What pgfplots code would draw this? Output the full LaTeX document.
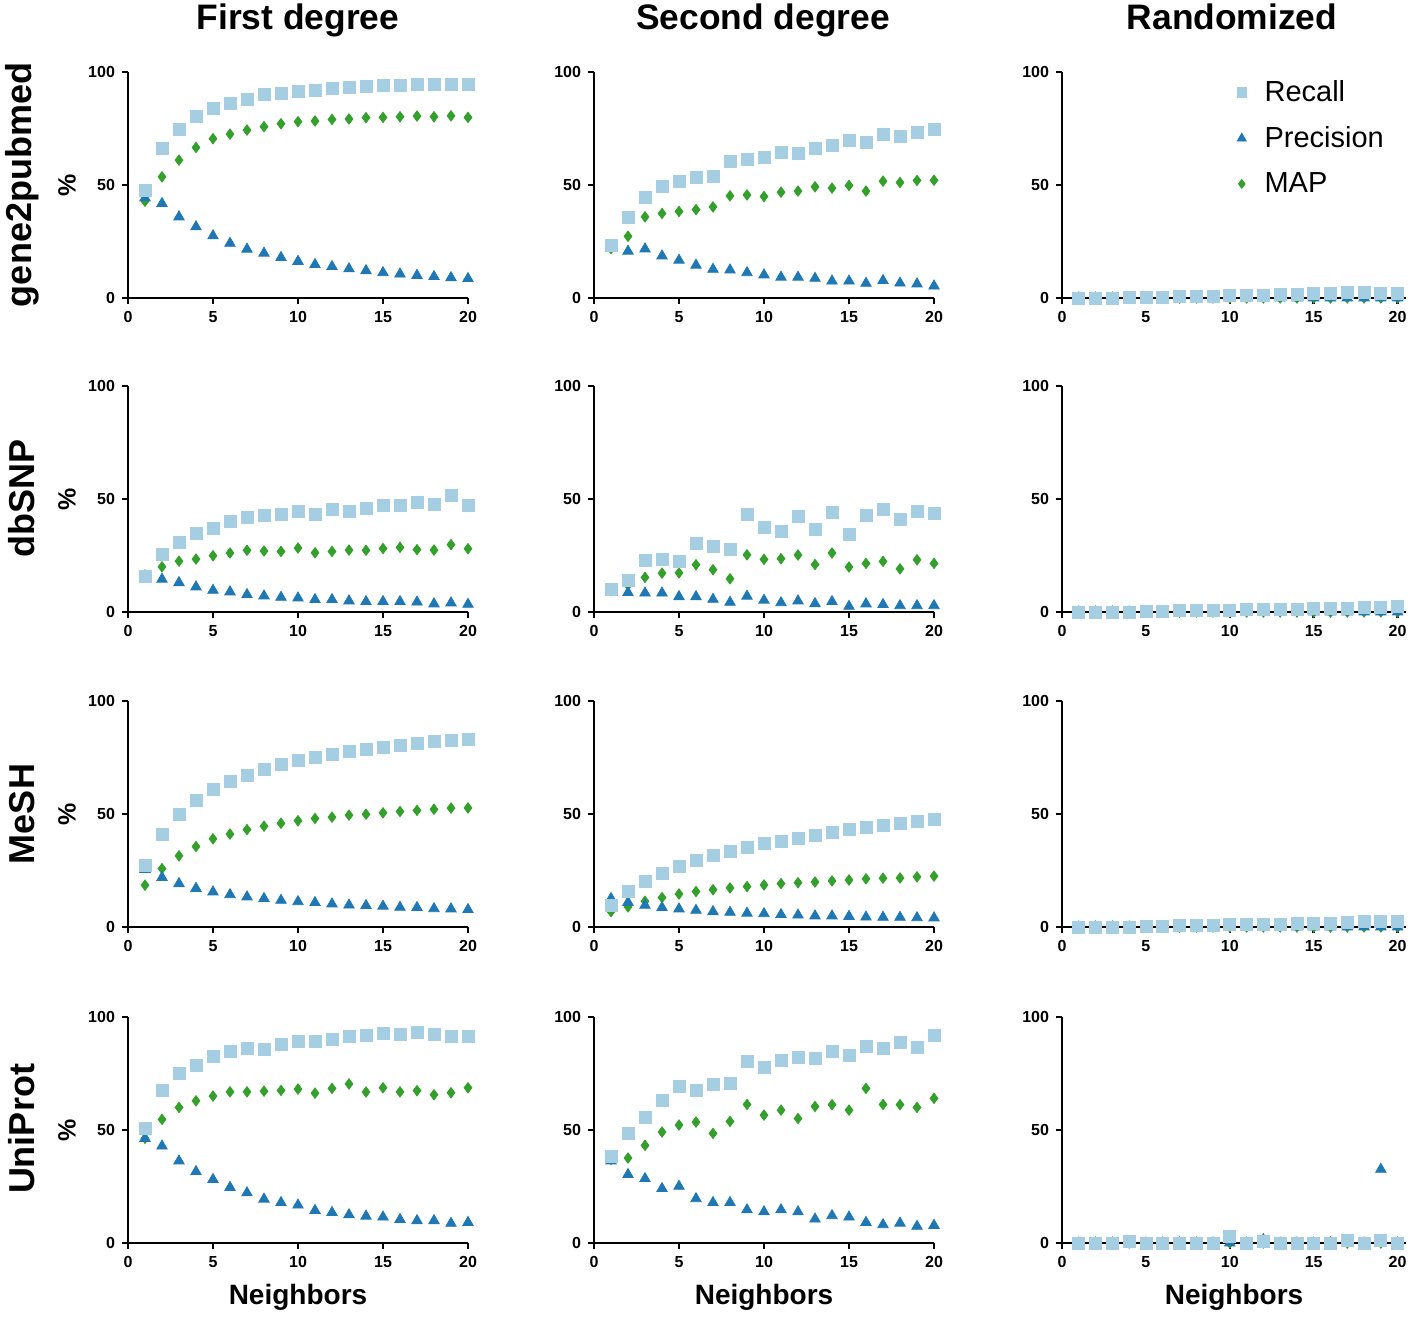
\documentclass[border=0pt]{standalone}
\usepackage{fontspec}
\setmainfont{Liberation Sans}
\usepackage{pgfplots}
\usepackage{pgfplotstable}
\pgfplotsset{compat=1.18}
\definecolor{rec}{RGB}{166,206,227}
\definecolor{pre}{RGB}{31,120,180}
\definecolor{mapc}{RGB}{51,160,44}

% gene2pubmed
\pgfplotstableread{
x R P M
1 47.6 44.3 42.8
2 66.2 41.8 53.6
3 74.6 35.9 61.0
4 80.2 31.5 66.6
5 83.9 27.5 70.5
6 86.1 24.2 72.5
7 87.7 21.6 74.3
8 90.0 19.8 75.8
9 90.7 17.9 77.1
10 91.3 16.2 78.0
11 91.7 14.8 78.3
12 92.6 13.9 79.0
13 93.2 12.9 79.2
14 93.6 12.1 79.8
15 93.9 11.2 79.9
16 94.2 10.6 80.2
17 94.5 10.0 80.5
18 94.5 9.5 80.2
19 94.7 9.0 80.6
20 94.7 8.6 79.9
}\tA
\pgfplotstableread{
x R P M
1 23.3 22.5 21.9
2 35.5 20.7 27.3
3 44.6 21.7 35.9
4 49.2 18.6 37.4
5 51.6 16.7 38.3
6 53.2 14.5 39.1
7 53.8 12.7 40.3
8 60.6 12.4 45.2
9 61.2 11.2 45.6
10 62.3 10.2 44.9
11 64.4 9.2 46.8
12 63.8 9.2 47.3
13 66.2 8.7 49.2
14 67.4 7.5 48.6
15 69.7 7.5 49.8
16 68.8 6.5 47.3
17 72.2 7.7 51.7
18 71.6 6.6 51.1
19 73.4 6.2 52.0
20 74.7 5.3 52.1
}\tB
\pgfplotstableread{
x R P M
1 0 0 0
2 0 0 0
3 0 0 0
4 0.2 0 0
5 0.3 0 0
6 0.4 0 0
7 0.6 0 0
8 0.5 0 0
9 0.8 0 0
10 1.0 0 0
11 1.2 0 0
12 1.0 0 0
13 1.4 0 0
14 1.8 0 0
15 2.0 0 0
16 2.0 0 0
17 2.5 0 0
18 2.5 0 0
19 2.0 0 0
20 2.0 0 0
}\tC
% dbSNP
\pgfplotstableread{
x R P M
1 15.9 16.0 15.5
2 25.3 14.5 20.0
3 30.8 13.0 22.5
4 34.7 11.1 23.4
5 37.2 9.6 24.9
6 39.9 8.9 26.1
7 41.9 7.7 27.3
8 42.7 7.1 27.0
9 43.1 6.5 26.8
10 44.6 6.2 28.3
11 43.1 5.5 26.2
12 45.2 5.5 26.8
13 44.7 4.9 27.4
14 45.8 4.6 27.3
15 47.1 4.6 28.1
16 47.0 4.6 28.6
17 48.7 4.4 27.6
18 47.4 3.6 27.4
19 51.7 4.0 29.8
20 47.0 3.4 28.0
}\tD
\pgfplotstableread{
x R P M
1 9.9 9.8 9.5
2 14.1 8.6 11.9
3 22.7 8.4 15.3
4 23.4 8.4 17.2
5 22.2 6.8 17.3
6 30.4 6.8 20.9
7 29.0 5.6 18.7
8 27.6 4.3 14.7
9 43.1 7.0 25.3
10 37.5 5.2 23.3
11 35.6 4.1 23.6
12 42.1 4.9 25.2
13 36.6 3.7 21.0
14 44.0 4.6 26.1
15 34.5 2.5 19.9
16 42.7 3.6 21.5
17 45.3 3.3 22.4
18 41.0 2.8 19.1
19 44.7 2.8 23.1
20 43.6 2.8 21.5
}\tE
\pgfplotstableread{
x R P M
1 0 0 0
2 0 0 0
3 0 0 0
4 0 0 0
5 0.2 0 0
6 0.3 0 0
7 0.5 0 0
8 0.7 0 0
9 0.8 0 0
10 0.8 0 0
11 1.0 0 0
12 1.1 0 0
13 1.3 0 0
14 1.3 0 0
15 1.4 0 0
16 1.8 0 0
17 1.8 0 0
18 2.0 0 0
19 2.0 0 0
20 2.5 0 0
}\tF
% MeSH
\pgfplotstableread{
x R P M
1 27.3 25.5 18.5
2 40.9 21.9 25.8
3 49.8 19.2 31.5
4 56.1 17.1 35.6
5 60.9 15.5 39.0
6 64.4 14.3 41.1
7 67.2 13.3 43.1
8 69.7 12.6 44.6
9 71.8 11.8 45.9
10 73.6 11.2 47.0
11 74.9 10.8 48.0
12 76.4 10.2 48.6
13 77.7 9.7 49.5
14 78.6 9.5 49.9
15 79.6 9.2 50.5
16 80.4 8.7 51.1
17 81.2 8.6 51.6
18 82.0 8.1 52.1
19 82.4 8.0 52.6
20 83.0 7.7 52.7
}\tG
\pgfplotstableread{
x R P M
1 9.6 12.6 6.8
2 15.8 10.9 8.9
3 20.1 9.6 11.4
4 23.8 8.6 13.0
5 26.9 8.0 14.6
6 29.4 7.4 15.7
7 31.6 6.8 16.5
8 33.4 6.5 17.3
9 35.3 6.1 17.9
10 36.8 5.9 18.6
11 38.0 5.5 19.2
12 39.3 5.3 19.6
13 40.6 4.9 19.9
14 41.8 4.9 20.4
15 43.0 4.7 20.8
16 44.0 4.4 21.3
17 45.1 4.3 21.6
18 45.9 4.3 21.7
19 46.7 4.1 22.2
20 47.6 4.0 22.5
}\tH
\pgfplotstableread{
x R P M
1 0 0 0
2 0 0 0
3 0 0 0
4 0 0 0
5 0.2 0 0
6 0.4 0 0
7 0.6 0 0
8 0.7 0 0
9 0.8 0 0
10 1.0 0 0
11 1.0 0 0
12 1.2 0 0
13 1.3 0 0
14 1.5 0 0
15 1.5 0 0
16 1.7 0 0
17 2.0 0 0
18 2.3 0 0
19 2.3 0 0
20 2.5 0 0
}\tI
% UniProt
\pgfplotstableread{
x R P M
1 50.7 46.3 46.3
2 67.5 42.9 54.7
3 75.0 36.3 60.0
4 78.8 31.6 62.9
5 82.4 28.1 65.0
6 84.6 24.6 66.9
7 86.2 22.2 66.9
8 85.7 19.4 67.2
9 87.9 17.9 67.5
10 89.1 16.8 68.1
11 89.3 14.4 66.3
12 90.0 13.5 68.4
13 91.3 12.5 70.4
14 91.8 11.9 66.8
15 92.9 11.5 68.7
16 92.4 10.4 66.9
17 93.4 9.9 67.4
18 92.2 9.9 65.6
19 91.3 8.7 66.5
20 91.5 9.1 68.7
}\tJ
\pgfplotstableread{
x R P M
1 38.4 36.3 37.0
2 48.4 30.3 37.6
3 55.4 28.5 43.2
4 63.1 24.1 49.1
5 69.4 25.1 52.2
6 67.4 19.6 53.5
7 70.1 17.9 48.5
8 70.4 17.9 53.8
9 80.3 14.7 61.3
10 77.6 13.8 56.6
11 80.6 14.7 58.8
12 82.1 13.8 55.1
13 81.8 10.6 60.4
14 85.0 12.1 61.2
15 83.2 11.5 58.8
16 86.8 9.1 68.4
17 86.2 8.1 61.3
18 88.8 8.8 61.2
19 86.5 7.4 60.0
20 91.9 7.8 64.0
}\tK
\pgfplotstableread{
x R P M
1 0 0 0
2 0 0 0
3 0 0 0
4 0.5 0 0
5 0 0 0
6 0 0 0
7 0 0 0
8 0 0 0
9 0 0 0
10 3.0 0 0
11 0 0 0
12 0.5 1.5 0
13 0 0 0
14 0 0 0
15 0 0 0
16 0 0 0
17 1.0 0 0
18 0 0 0
19 1.0 32.6 0
20 0 0 0
}\tL

\pgfplotsset{
 panel/.style={
  scale only axis, width=170pt, height=113pt,
  xmin=0, xmax=20, ymin=0, ymax=100,
  axis lines=left, axis line style={line width=1.3pt, -},
  xtick={0,5,10,15,20}, ytick={0,50,100},
  tick align=outside, major tick length=3pt,
  tick style={line width=1.3pt, black},
  ticklabel style={font=\bfseries\fontsize{8}{9}\selectfont},
  /pgf/number format/assume math mode=true,
  clip=false, axis on top,
  anchor=south west,
  every axis y label/.style={at={(rel axis cs:0,0.5)}, xshift=-30.5pt, rotate=90, anchor=center, font=\bfseries\fontsize{12.5}{14}\selectfont},
  every axis x label/.style={at={(rel axis cs:0.5,0)}, yshift=-27pt, anchor=center, font=\bfseries\fontsize{14}{16}\selectfont},
 },
 randp/.style={panel, xmax=20.5, width=172pt},
 mR/.style={only marks, mark=square*, mark size=3pt, color=rec, forget plot},
 mP/.style={only marks, mark=triangle*, mark size=3pt, color=pre, forget plot},
 mM/.style={only marks, mark=diamond*, mark size=2.6pt, color=mapc, forget plot},
}
\newcommand{\trio}[1]{%
  \addplot[mM] table[x=x,y=M]{#1};
  \addplot[mP] table[x=x,y=P]{#1};
  \addplot[mR] table[x=x,y=R]{#1};
}

\begin{document}
\begin{tikzpicture}
\path[use as bounding box] (0,0) rectangle (708pt,658pt);

% Row 1
\begin{axis}[panel, at={(64pt,509pt)}, ylabel={\%}]
\trio{\tA}
\end{axis}
\begin{axis}[panel, at={(297pt,509pt)}]
\trio{\tB}
\end{axis}
\begin{axis}[randp, at={(531pt,509pt)},
  legend style={draw=none, fill=none, at={(0.49,1.0)}, anchor=north west,
    font=\fontsize{14.5}{17}\selectfont, row sep=7pt, column sep=7pt},
  legend cell align=left]
\addlegendimage{only marks, mark=square*, mark size=2.4pt, color=rec}
\addlegendentry{Recall}
\addlegendimage{only marks, mark=triangle*, mark size=2.6pt, color=pre}
\addlegendentry{Precision}
\addlegendimage{only marks, mark=diamond*, mark size=2.2pt, color=mapc}
\addlegendentry{MAP}
\trio{\tC}
\end{axis}

% Row 2
\begin{axis}[panel, at={(64pt,352pt)}, ylabel={\%}]
\trio{\tD}
\end{axis}
\begin{axis}[panel, at={(297pt,352pt)}]
\trio{\tE}
\end{axis}
\begin{axis}[randp, at={(531pt,352pt)}]
\trio{\tF}
\end{axis}

% Row 3
\begin{axis}[panel, at={(64pt,194.5pt)}, ylabel={\%}]
\trio{\tG}
\end{axis}
\begin{axis}[panel, at={(297pt,194.5pt)}]
\trio{\tH}
\end{axis}
\begin{axis}[randp, at={(531pt,194.5pt)}]
\trio{\tI}
\end{axis}

% Row 4
\begin{axis}[panel, at={(64pt,36.5pt)}, ylabel={\%}, xlabel={Neighbors}]
\trio{\tJ}
\end{axis}
\begin{axis}[panel, at={(297pt,36.5pt)}, xlabel={Neighbors}]
\trio{\tK}
\end{axis}
\begin{axis}[randp, at={(531pt,36.5pt)}, xlabel={Neighbors}]
\trio{\tL}
\end{axis}

% Column titles
\begin{scope}[every node/.style={font=\bfseries\fontsize{17.7}{20}\selectfont, anchor=base}]
\node at (149pt,643pt) {First degree};
\node at (381.5pt,643pt) {Second degree};
\node at (616pt,643pt) {Randomized};
\end{scope}
% Row labels
\begin{scope}[every node/.style={font=\bfseries\fontsize{18}{20}\selectfont, rotate=90, anchor=center}]
\node at (11pt,565.5pt) {gene2pubmed};
\node at (11pt,408.5pt) {dbSNP};
\node at (11pt,251pt) {MeSH};
\node at (11pt,93.5pt) {UniProt};
\end{scope}
\end{tikzpicture}
\end{document}
